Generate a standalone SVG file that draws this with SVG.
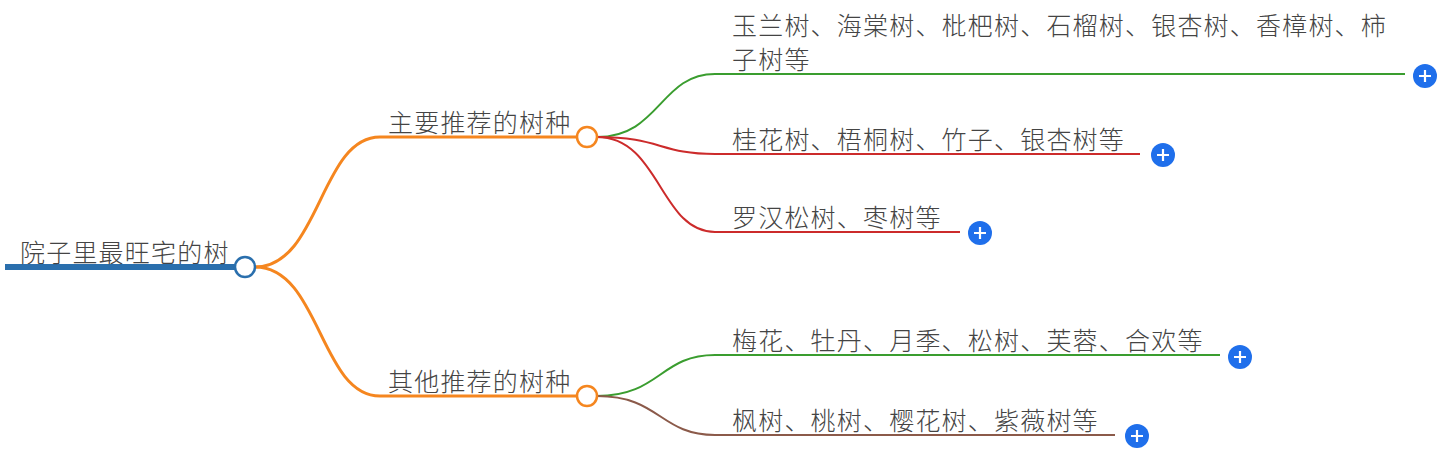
<svg xmlns="http://www.w3.org/2000/svg" width="1445" height="454" viewBox="0 0 1445 454">
<style>
text{font-family:"Noto Sans CJK SC","Noto Sans",sans-serif;font-size:25px;letter-spacing:1.2px;font-weight:300;fill:#444}
.c{fill:none;stroke-width:2}
.o{stroke:#f5861f;stroke-width:3}
.g{stroke:#3a9d2f}
.r{stroke:#cc2b2b}
.b{stroke:#8b5a4a}
.plus circle{fill:#1f6feb}
.plus path{stroke:#fff;stroke-width:2.2}
</style>
<rect width="1445" height="454" fill="#fff"/>
<g id="connectors" fill="none">
<path d="M5 267H236" stroke="#2a6fad" stroke-width="6"/>
<path class="c o" d="M255 267C320 267 320 137 380 137H577"/>
<path class="c o" d="M255 267C320 267 320 396 380 396H577"/>
<path class="c g" d="M597 137C660 137 660 74 715 74H1405"/>
<path class="c r" d="M597 137C660 137 660 154 715 154H1140"/>
<path class="c r" d="M597 137C660 137 660 232 715 232H960"/>
<path class="c g" d="M597 396C660 396 660 355 715 355H1220"/>
<path class="c b" d="M597 396C660 396 660 435 715 435H1115"/>
</g>
<g id="root"><text x="20" y="262">院子里最旺宅的树</text><circle cx="245" cy="267" r="10" fill="#fff" stroke="#2a6fad" stroke-width="2.5"/></g>
<g id="n1"><text x="388" y="132">主要推荐的树种</text><circle cx="587" cy="137" r="10" fill="#fff" stroke="#f5861f" stroke-width="2.5"/></g>
<g id="n2"><text x="388" y="391">其他推荐的树种</text><circle cx="587" cy="396" r="10" fill="#fff" stroke="#f5861f" stroke-width="2.5"/></g>
<g id="n11"><text x="732" y="35">玉兰树、海棠树、枇杷树、石榴树、银杏树、香樟树、柿</text><text x="732" y="69">子树等</text>
<g class="plus"><circle cx="1425" cy="76" r="12"/><path d="M1419 76h12M1425 70v12"/></g></g>
<g id="n12"><text x="732" y="149">桂花树、梧桐树、竹子、银杏树等</text>
<g class="plus"><circle cx="1163" cy="155" r="12"/><path d="M1157 155h12M1163 149v12"/></g></g>
<g id="n13"><text x="732" y="227">罗汉松树、枣树等</text>
<g class="plus"><circle cx="980" cy="233" r="12"/><path d="M974 233h12M980 227v12"/></g></g>
<g id="n21"><text x="732" y="350">梅花、牡丹、月季、松树、芙蓉、合欢等</text>
<g class="plus"><circle cx="1240" cy="357" r="12"/><path d="M1234 357h12M1240 351v12"/></g></g>
<g id="n22"><text x="732" y="430">枫树、桃树、樱花树、紫薇树等</text>
<g class="plus"><circle cx="1137" cy="436" r="12"/><path d="M1131 436h12M1137 430v12"/></g></g>
</svg>
